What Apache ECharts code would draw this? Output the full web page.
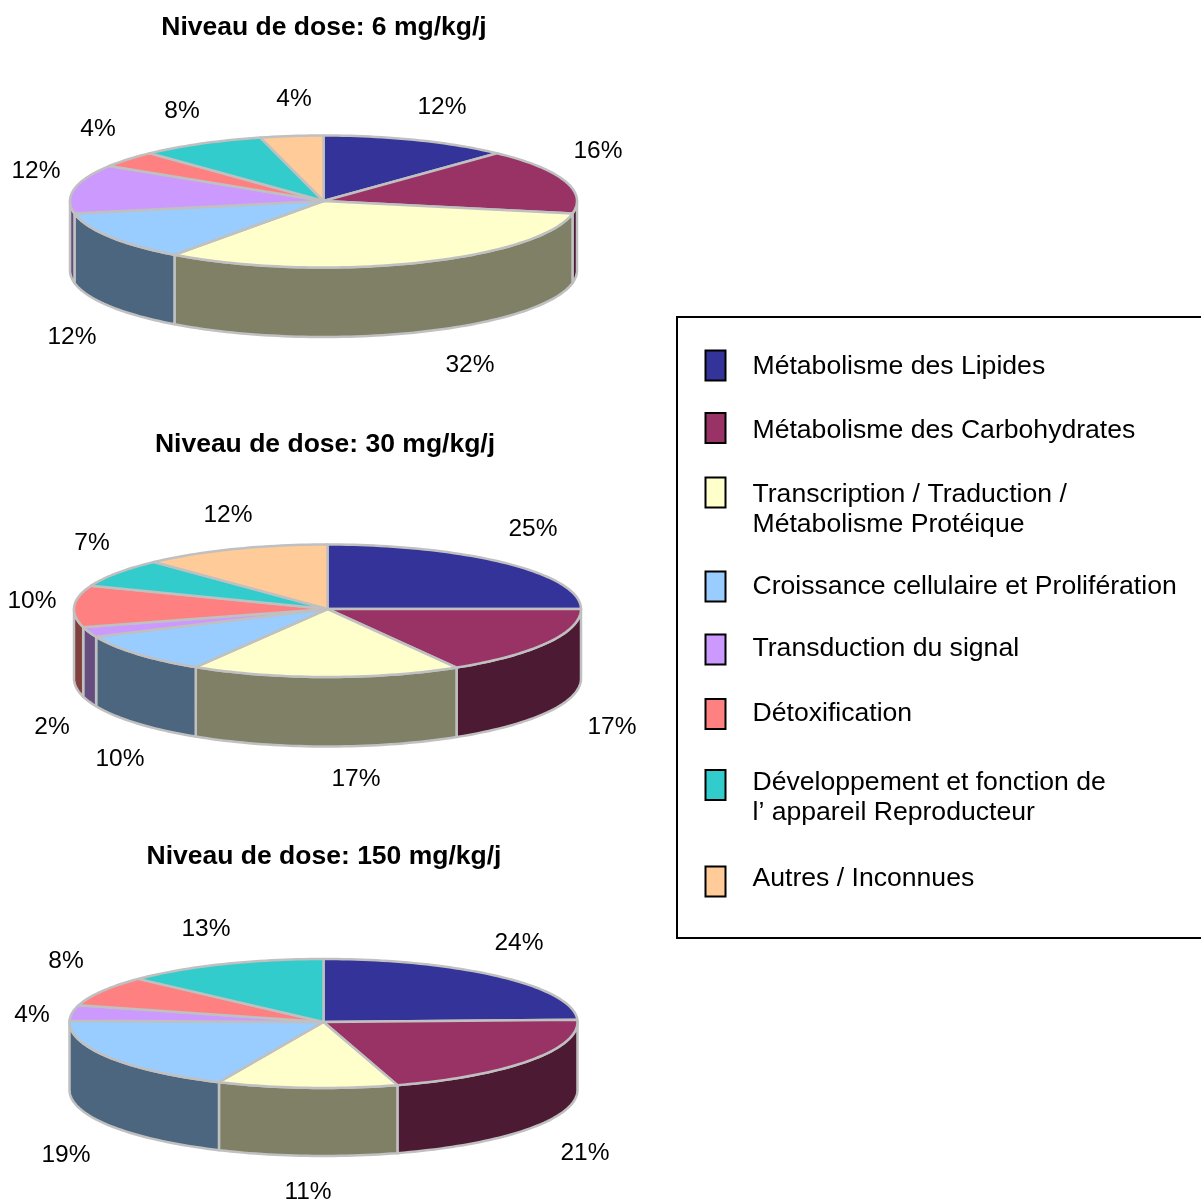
<!DOCTYPE html>
<html>
<head>
<meta charset="utf-8">
<style>html,body{margin:0;padding:0;background:#fff}#c{width:1201px;height:1203px}</style>
<script src="https://cdn.jsdelivr.net/npm/echarts@6/dist/echarts.min.js"></script>
</head>
<body>
<div id="c"></div>
<script>
var categories = ['Métabolisme des Lipides','Métabolisme des Carbohydrates','Transcription / Traduction /\nMétabolisme Protéique','Croissance cellulaire et Prolifération','Transduction du signal','Détoxification','Développement et fonction de\nl’ appareil Reproducteur','Autres / Inconnues'];
// shares; the printed labels are these rounded to whole percents
var dose6 = [12,16,32,12,12,4,8,4];
var dose30 = [25,16.5,17.2,9.6,2.4,10.2,7.1,12];
var dose150 = [24.4,20.9,11.45,18.55,4,7.7,13,0];
var titles = ['Niveau de dose: 6 mg/kg/j','Niveau de dose: 30 mg/kg/j','Niveau de dose: 150 mg/kg/j'];

var topColors = ['#333399','#993366','#FFFFCC','#99CCFF','#CC99FF','#FF8080','#33CCCC','#FFCC99'];
var wallColors = ['#1A1A4D','#4D1A33','#808066','#4D6680','#664D80','#804040','#1A6666','#806650'];
var EDGE = '#C0C0C0';
var FONT = '"Liberation Sans", Arial, sans-serif';

var pies = [
  {values:dose6, title:titles[0], cx:323.5, cy:201, rx:253.5, ryBack:65.5, ryFront:66.5, depth:69.5, titleX:324, titleY:28,
   labels:[[442,107],[598,151],[470,365],[72,337],[36,171],[98,129],[182,111],[294,99]]},
  {values:dose30, title:titles[1], cx:327.5, cy:609, rx:253.5, ryBack:64.5, ryFront:68, depth:69.5, titleX:325, titleY:445,
   labels:[[533,529],[612,727],[356,779],[120,759],[52,727],[32,601],[92,543],[228,515]]},
  {values:dose150, title:titles[2], cx:323.5, cy:1022, rx:254, ryBack:63, ryFront:66, depth:68, titleX:324, titleY:857,
   labels:[[519,943],[585,1153],[308,1192],[66,1155],[32,1015],[66,961],[206,929],null]}
];
var legendTextRows = [365.7,429.7,493.7,585.7,647.7,712.7,781.7,877.7];
var legendIconRows = [365.5,428,492.5,586.5,649.5,714,785,881.5];

function rowsFor(values){
  var cum = 0;
  return values.map(function(v,i){ var row=[i,v,cum]; cum+=v; return row; });
}
function point(p,deg,dy){
  var t = deg*Math.PI/180, c = Math.cos(t);
  return [p.cx+Math.sin(t)*p.rx, p.cy-c*(c>=0?p.ryBack:p.ryFront)+(dy||0)];
}
function arc(p,a,b,dy){
  var n = Math.max(2,Math.ceil(Math.abs(b-a)/1.5)), pts=[];
  for(var k=0;k<=n;k++) pts.push(point(p,a+(b-a)*k/n,dy));
  return pts;
}
function wallRender(p){
  return function(params,api){
    var i=api.value(0), v=api.value(1), s=api.value(2);
    var a=Math.max(s*3.6,90), b=Math.min((s+v)*3.6,270);
    if(v===0||b<=a) return {type:'group',children:[]};
    var pts=arc(p,a,b,0).concat(arc(p,b,a,p.depth));
    return {type:'polygon',shape:{points:pts},
      style:{fill:wallColors[i],stroke:EDGE,lineWidth:2.5,lineJoin:'round'}};
  };
}
function topRender(p){
  return function(params,api){
    var i=api.value(0), v=api.value(1), s=api.value(2);
    if(v===0) return {type:'group',children:[]};
    var a=s*3.6, b=(s+v)*3.6;
    var pts=[[p.cx,p.cy]].concat(arc(p,a,b,0));
    var kids=[{type:'polygon',shape:{points:pts},
      style:{fill:topColors[i],stroke:EDGE,lineWidth:2.5,lineJoin:'round'}}];
    var l=p.labels[i];
    if(l) kids.push({type:'text',z2:10,style:{text:Math.round(v)+'%',x:l[0],y:l[1],align:'center',verticalAlign:'middle',
      font:'24.5px '+FONT,fill:'#000'}});
    return {type:'group',children:kids};
  };
}

var series=[], titleOpts=[];
pies.forEach(function(p){
  var rows=rowsFor(p.values);
  series.push({type:'custom',coordinateSystem:'none',name:p.title+' (côté)',z:2,silent:true,animation:false,
    renderItem:wallRender(p),data:rows});
  series.push({type:'custom',coordinateSystem:'none',name:p.title,z:3,silent:true,animation:false,
    renderItem:topRender(p),data:rows});
  titleOpts.push({text:p.title,left:p.titleX,top:p.titleY-14,textAlign:'center',padding:0,
    textStyle:{fontFamily:FONT,fontSize:26.5,fontWeight:'bold',color:'#000',lineHeight:28}});
});

var legendEls=[{type:'rect',shape:{x:677,y:317,width:560,height:621},
  style:{fill:'#fff',stroke:'#000',lineWidth:2},z:1}];
categories.forEach(function(name,i){
  legendEls.push({type:'rect',shape:{x:705.5,y:legendIconRows[i]-15,width:20,height:30},
    style:{fill:topColors[i],stroke:'#000',lineWidth:2},z:2});
  legendEls.push({type:'text',x:752.5,y:legendTextRows[i]-14,z:2,style:{text:name,
    font:'26.6px '+FONT,lineHeight:30,fill:'#000',align:'left',verticalAlign:'top'}});
});

var chart=echarts.init(document.getElementById('c'),null,{renderer:'canvas',width:1201,height:1203});
chart.setOption({animation:false,backgroundColor:'#fff',title:titleOpts,series:series,graphic:{elements:legendEls}});
</script>
</body>
</html>
